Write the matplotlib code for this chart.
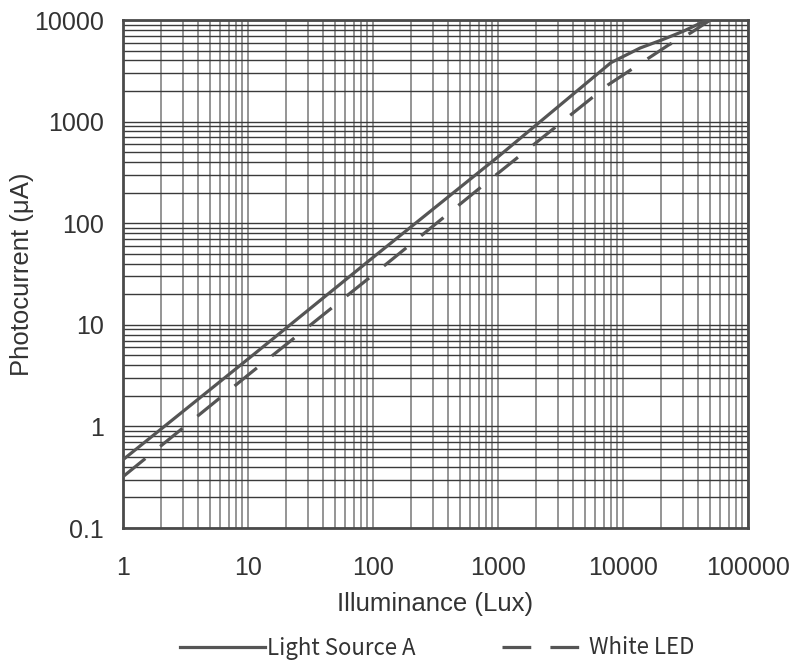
import numpy as np
import matplotlib
matplotlib.use('Agg')
import matplotlib.pyplot as plt
from matplotlib import ticker

plt.rcParams['font.family'] = ['Liberation Sans', 'DejaVu Sans']

# 数据
lux_a = [1, 10, 100, 1000, 8000, 13700, 20000, 30000, 47000]
current_a = [0.47, 4.6, 46, 450, 3800, 5300, 6300, 7700, 10000]

lux_led = [1, 10, 100, 1000, 7600, 13200, 23000, 35000, 50000]
current_led = [0.32, 3.2, 31, 310, 2300, 3600, 5650, 7500, 10000]

x_ticks = [1, 10, 100, 1000, 10000, 100000]
y_ticks = [0.1, 1, 10, 100, 1000, 10000]

line_color = '#555555'
text_color = '#333333'

fig = plt.figure(figsize=(7.94, 6.65), dpi=100)
ax = fig.add_axes([123 / 794, 1 - 528 / 665, 625 / 794, 508 / 665])

ax.plot(lux_a, current_a, color=line_color, lw=2.3, label='Light Source A', zorder=3)
ax.plot(lux_led, current_led, color=line_color, lw=2.3, linestyle=(0, (9, 6)),
        label='White LED', zorder=3)

ax.set_xscale('log')
ax.set_yscale('log')
ax.set_xlim(1, 100000)
ax.set_ylim(0.1, 10000)

ax.xaxis.set_major_locator(ticker.FixedLocator(x_ticks))
ax.yaxis.set_major_locator(ticker.FixedLocator(y_ticks))
ax.xaxis.set_minor_locator(ticker.LogLocator(base=10, subs=np.arange(2, 10)))
ax.yaxis.set_minor_locator(ticker.LogLocator(base=10, subs=np.arange(2, 10)))
fmt = ticker.FuncFormatter(lambda v, p: '{:g}'.format(v))
ax.xaxis.set_major_formatter(fmt)
ax.yaxis.set_major_formatter(fmt)
ax.xaxis.set_minor_formatter(ticker.NullFormatter())
ax.yaxis.set_minor_formatter(ticker.NullFormatter())

# 网格：横线深色，竖线灰色
ax.grid(True, which='both', axis='y', color='#3a3a3a', lw=1.0)
ax.grid(True, which='both', axis='x', color='#8c8c8c', lw=1.3)
ax.set_axisbelow(True)

for s in ax.spines.values():
    s.set_color('#4a4a4a')
    s.set_linewidth(2)

ax.tick_params(which='both', length=0)
ax.tick_params(axis='x', labelsize=18, pad=20, colors=text_color)
ax.tick_params(axis='y', labelsize=18, pad=14, colors=text_color)

ax.set_xlabel('Illuminance (Lux)', fontsize=18.5, color=text_color, labelpad=9)
fig.text(22 / 794, 1 - 274 / 665, 'Photocurrent (μA)', fontsize=18.5, color=text_color,
         rotation=90, ha='center', va='center')

fig.legend(loc='center', bbox_to_anchor=(437 / 794, 1 - 648 / 665), ncol=2,
           frameon=False, handlelength=3.8, handletextpad=0.1, columnspacing=3.9,
           prop={'family': ['Noto Sans CJK JP', 'DejaVu Sans'], 'size': 16},
           labelcolor=text_color)

fig.savefig('out.png', dpi=100)
